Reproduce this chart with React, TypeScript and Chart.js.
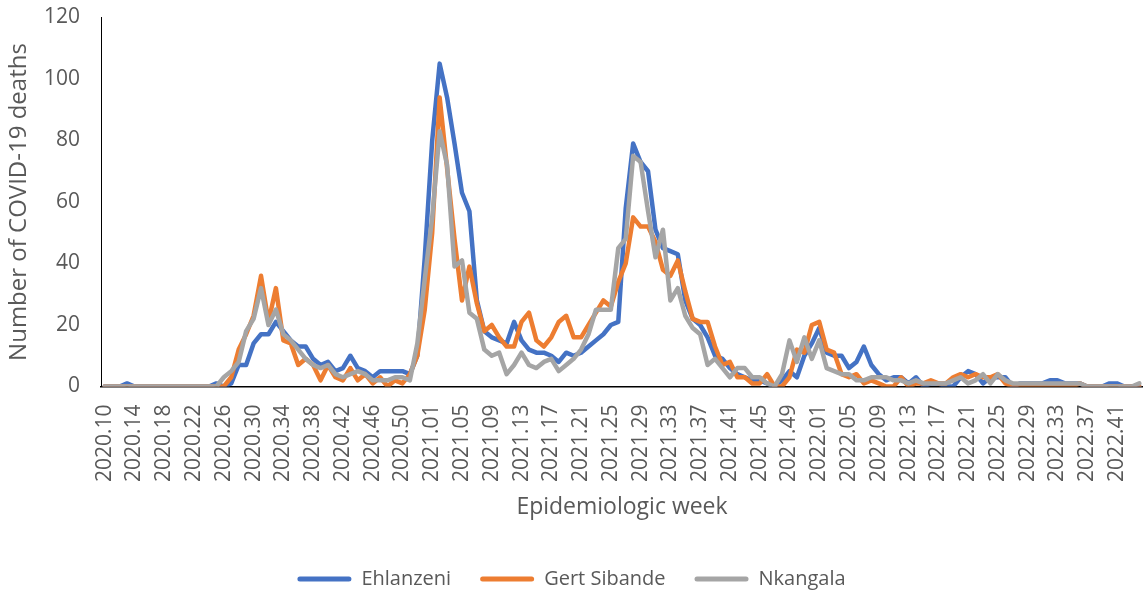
import { useEffect, useRef } from "react";
import { Chart, registerables } from "chart.js";

Chart.register(...registerables);

const weeks = [
  "2020.10","2020.11","2020.12","2020.13","2020.14","2020.15","2020.16","2020.17","2020.18","2020.19",
  "2020.20","2020.21","2020.22","2020.23","2020.24","2020.25","2020.26","2020.27","2020.28","2020.29",
  "2020.30","2020.31","2020.32","2020.33","2020.34","2020.35","2020.36","2020.37","2020.38","2020.39",
  "2020.40","2020.41","2020.42","2020.43","2020.44","2020.45","2020.46","2020.47","2020.48","2020.49",
  "2020.50","2020.51","2020.52","2020.53",
  "2021.01","2021.02","2021.03","2021.04","2021.05","2021.06","2021.07","2021.08","2021.09","2021.10",
  "2021.11","2021.12","2021.13","2021.14","2021.15","2021.16","2021.17","2021.18","2021.19","2021.20",
  "2021.21","2021.22","2021.23","2021.24","2021.25","2021.26","2021.27","2021.28","2021.29","2021.30",
  "2021.31","2021.32","2021.33","2021.34","2021.35","2021.36","2021.37","2021.38","2021.39","2021.40",
  "2021.41","2021.42","2021.43","2021.44","2021.45","2021.46","2021.47","2021.48","2021.49","2021.50",
  "2021.51","2021.52",
  "2022.01","2022.02","2022.03","2022.04","2022.05","2022.06","2022.07","2022.08","2022.09","2022.10",
  "2022.11","2022.12","2022.13","2022.14","2022.15","2022.16","2022.17","2022.18","2022.19","2022.20",
  "2022.21","2022.22","2022.23","2022.24","2022.25","2022.26","2022.27","2022.28","2022.29","2022.30",
  "2022.31","2022.32","2022.33","2022.34","2022.35","2022.36","2022.37","2022.38","2022.39","2022.40",
  "2022.41","2022.42","2022.43","2022.44",
];

const ehlanzeni = [
  0, 0, 0, 1, 0, 0, 0, 0, 0, 0,
  0, 0, 0, 0, 0, 1, 0, 1, 7, 7,
  14, 17, 17, 21, 18, 15, 13, 13, 9, 7,
  8, 5, 6, 10, 6, 5, 3, 5, 5, 5,
  5, 4, 10, 42, 80, 105, 94, 79, 63, 57,
  28, 18, 16, 15, 14, 21, 15, 12, 11, 11,
  10, 8, 11, 10, 11, 13, 15, 17, 20, 21,
  58, 79, 73, 70, 51, 45, 44, 43, 28, 22,
  20, 16, 10, 9, 6, 4, 3, 2, 2, 1,
  0, 2, 5, 3, 10, 14, 19, 11, 10, 10,
  6, 8, 13, 7, 4, 2, 3, 3, 1, 3,
  0, 1, 1, 0, 0, 3, 5, 4, 1, 3,
  3, 3, 0, 1, 1, 1, 1, 2, 2, 1,
  1, 1, 0, 0, 0, 1, 1, 0, 0, 0,
];

const gertSibande = [
  0, 0, 0, 0, 0, 0, 0, 0, 0, 0,
  0, 0, 0, 0, 0, 0, 0, 3, 12, 17,
  23, 36, 21, 32, 15, 14, 7, 9, 7, 2,
  7, 3, 2, 6, 2, 4, 1, 3, 0, 2,
  1, 4, 10, 25, 50, 94, 71, 48, 28, 39,
  27, 18, 20, 16, 13, 13, 21, 24, 15, 13,
  16, 21, 23, 16, 16, 20, 24, 28, 26, 34,
  40, 55, 52, 52, 47, 38, 36, 41, 31, 22,
  21, 21, 13, 7, 8, 3, 3, 1, 1, 4,
  0, 0, 3, 12, 11, 20, 21, 12, 11, 4,
  3, 4, 1, 2, 1, 0, 0, 3, 0, 1,
  1, 2, 1, 1, 3, 4, 3, 4, 3, 3,
  4, 1, 0, 0, 0, 0, 0, 0, 0, 0,
  0, 1, 0, 0, 0, 0, 0, 0, 0, 0,
];

const nkangala = [
  0, 0, 0, 0, 0, 0, 0, 0, 0, 0,
  0, 0, 0, 0, 0, 0, 3, 5, 8, 18,
  22, 32, 20, 25, 17, 15, 12, 9, 7, 6,
  7, 4, 3, 4, 5, 4, 2, 2, 2, 3,
  3, 2, 14, 35, 55, 83, 72, 39, 41, 24,
  22, 12, 10, 11, 4, 7, 11, 7, 6, 8,
  9, 5, 7, 9, 12, 17, 25, 25, 25, 45,
  48, 75, 73, 57, 42, 51, 28, 32, 23, 19,
  17, 7, 9, 6, 3, 6, 6, 3, 3, 1,
  0, 4, 15, 8, 16, 9, 15, 6, 5, 4,
  4, 2, 2, 3, 3, 3, 2, 2, 1, 2,
  1, 1, 1, 1, 2, 3, 1, 2, 4, 1,
  4, 2, 1, 1, 1, 1, 1, 1, 1, 1,
  1, 1, 0, 0, 0, 0, 0, 0, 0, 1,
];

const seriesNames = ["Ehlanzeni", "Gert Sibande", "Nkangala"];
const seriesColors = ["#4472C4", "#ED7D31", "#A5A5A5"];

const FONT = "'Open Sans', sans-serif";
const TEXT = "#595959";

export default function App() {
  const ref = useRef<HTMLCanvasElement>(null);

  useEffect(() => {
    const values = [ehlanzeni, gertSibande, nkangala];
    const chart = new Chart(ref.current!, {
      type: "line",
      data: {
        labels: weeks,
        datasets: values.map((d, i) => ({
          label: seriesNames[i],
          data: d,
          borderColor: seriesColors[i],
          backgroundColor: seriesColors[i],
          order: 2 - i,
        })),
      },
      options: {
        animation: false,
        responsive: false,
        devicePixelRatio: 1,
        layout: { padding: { top: 17.5, right: 0, bottom: 0, left: 0 } },
        elements: {
          line: { borderWidth: 4.5, tension: 0, borderJoinStyle: "round", borderCapStyle: "round" },
          point: { radius: 0, hoverRadius: 0 },
        },
        scales: {
          x: {
            type: "category",
            offset: true,
            grid: { display: false, drawTicks: false },
            border: { display: true, color: "#000000", width: 1.5 },
            ticks: {
              autoSkip: false,
              maxRotation: 90,
              minRotation: 90,
              padding: 18,
              color: TEXT,
              font: { family: FONT, size: 21 },
              callback: (_v: any, i: number) => (i % 4 === 0 ? weeks[i] : ""),
            },
            title: {
              display: true,
              text: "Epidemiologic week",
              color: TEXT,
              font: { family: FONT, size: 23 },
              padding: { top: 0, bottom: 19 },
            },
            afterFit: (s: any) => {
              s.height = 153.5;
              s.paddingLeft = 0;
              s.paddingRight = 0;
            },
          },
          y: {
            min: 0,
            max: 120,
            grid: { display: false, drawTicks: false },
            border: { display: true, color: "#000000", width: 1 },
            ticks: {
              stepSize: 20,
              padding: 21,
              color: TEXT,
              font: { family: FONT, size: 21 },
            },
            title: {
              display: true,
              text: "Number of COVID-19 deaths",
              color: TEXT,
              font: { family: FONT, size: 24 },
              padding: { top: 5, bottom: 0 },
            },
            afterFit: (s: any) => {
              s.width = 101;
              s.paddingTop = 0;
              s.paddingBottom = 0;
            },
          },
        },
        plugins: {
          tooltip: { enabled: false },
          legend: {
            position: "bottom",
            maxHeight: 55,
            labels: {
              boxWidth: 54,
              boxHeight: 5,
              padding: 29,
              color: TEXT,
              font: { family: FONT, size: 20 },
              generateLabels: (c: any) =>
                c.data.datasets.map((ds: any, i: number) => ({
                  text: ds.label,
                  fillStyle: ds.borderColor,
                  strokeStyle: ds.borderColor,
                  lineWidth: 0,
                  hidden: false,
                  datasetIndex: i,
                  borderRadius: 2.5,
                  fontColor: TEXT,
                })),
            },
          },
        },
      } as any,
    });
    return () => chart.destroy();
  }, []);

  return (
    <div style={{ position: "absolute", left: 0, top: 0, width: 1143, height: 595 }}>
      <canvas ref={ref} width={1143} height={595} style={{ display: "block" }} />
    </div>
  );
}
